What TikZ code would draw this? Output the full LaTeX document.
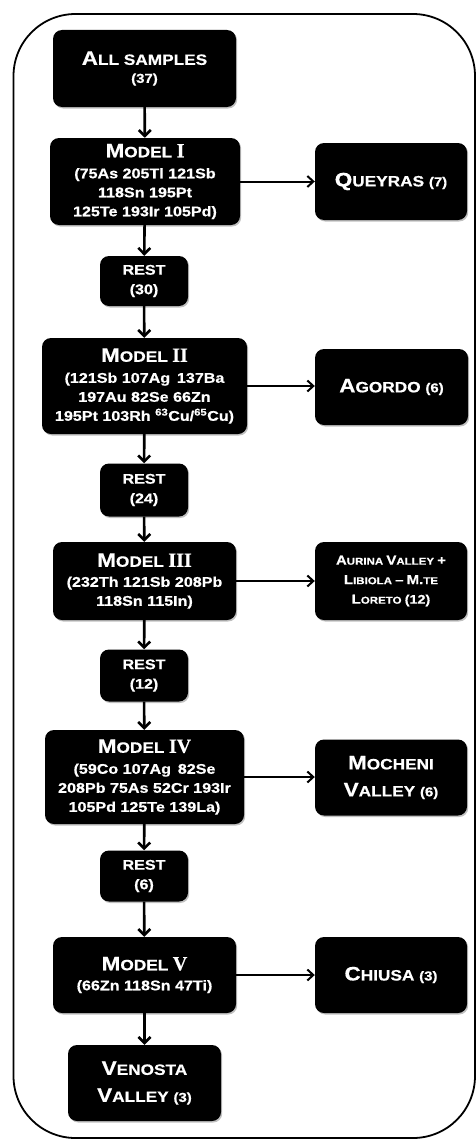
\documentclass[tikz,border=0pt]{standalone}
\usepackage{fontspec}
\usetikzlibrary{arrows.meta,shadows}
\newfontfamily\labfont{Liberation Sans}[FakeStretch=1.15,FakeBold=0.6]
\newfontfamily\numfont{Liberation Serif}[FakeBold=0.4]
% big initials, small-cap tails, counts, roman numerals
\newcommand\HB[1]{{\fontsize{19.5pt}{19.5pt}\selectfont#1}}
\newcommand\HS[1]{{\fontsize{15pt}{15pt}\selectfont#1}}
\newcommand\CNT[1]{{\fontsize{13pt}{13pt}\selectfont#1}}
\newcommand\RN[1]{{\numfont\fontsize{20pt}{20pt}\selectfont#1}}
\newcommand\AB[1]{{\fontsize{13pt}{13pt}\selectfont#1}}
\newcommand\AS[1]{{\fontsize{10pt}{10pt}\selectfont#1}}
\tikzset{
  box/.style={fill=black, text=white, rounded corners=9pt, inner sep=0pt,
    align=center,
    drop shadow={shadow xshift=1.2pt, shadow yshift=-1.5pt, opacity=0.35, fill=black!70}},
  modelbox/.style={box, font=\labfont\bfseries\fontsize{14pt}{19pt}\selectfont},
  sidebox/.style={box, minimum width=152pt, font=\labfont\bfseries\fontsize{15pt}{27pt}\selectfont},
  restbox/.style={box, minimum width=88pt, font=\labfont\bfseries\fontsize{14pt}{19.5pt}\selectfont},
  vconn/.style={line width=2.6pt, -{Straight Barb[length=6pt,width=12pt]}},
  hconn/.style={line width=2pt, -{Straight Barb[length=6pt,width=11pt]}},
}
\begin{document}
\begin{tikzpicture}[x=1pt,y=-1pt]
\useasboundingbox (0,0) rectangle (476,1140);
\fill[white] (0,0) rectangle (476,1140);
% outer frame
\draw[line width=1.8pt, rounded corners=62pt] (13.5,14) rectangle (475,1138);

% main column
\node[modelbox, minimum width=183pt, minimum height=77pt, font=\labfont\bfseries\fontsize{14pt}{18pt}\selectfont]
  (all) at (144.5,68.5) {\HB{A}\HS{LL SAMPLES}\\\CNT{(37)}};
\node[modelbox, minimum width=190pt, minimum height=87pt] (m1) at (145,181.5)
  {\HB{M}\HS{ODEL} \RN{I}\\[2pt](75As 205Tl 121Sb\\118Sn 195Pt\\125Te 193Ir 105Pd)};
\node[restbox, minimum height=50pt] (r1) at (144,281) {REST\\(30)};
\node[modelbox, minimum width=205pt, minimum height=96pt] (m2) at (144.5,386)
  {\HB{M}\HS{ODEL} \RN{II}\\[2pt](121Sb 107Ag \,137Ba\\197Au 82Se 66Zn\\195Pt 103Rh \textsuperscript{63}Cu/\textsuperscript{65}Cu)};
\node[restbox, minimum height=53pt] (r2) at (144,490) {REST\\(24)};
\node[modelbox, minimum width=183pt, minimum height=78pt] (m3) at (144.5,581)
  {\HB{M}\HS{ODEL} \RN{III}\\[1pt](232Th 121Sb 208Pb\\118Sn 115In)};
\node[restbox, minimum height=52pt] (r3) at (144,675.5) {REST\\(12)};
\node[modelbox, minimum width=199pt, minimum height=94pt] (m4) at (144.5,777)
  {\HB{M}\HS{ODEL} \RN{IV}\\[2pt](59Co 107Ag \,82Se\\208Pb 75As 52Cr 193Ir\\105Pd 125Te 139La)};
\node[restbox, minimum height=51pt] (r4) at (144,876) {REST\\(6)};
\node[modelbox, minimum width=183pt, minimum height=76pt] (m5) at (144.5,975)
  {\HB{M}\HS{ODEL} \RN{V}\\[1pt](66Zn 118Sn 47Ti)};
\node[sidebox, minimum width=153pt, minimum height=76pt] (ven) at (144.5,1083)
  {\HB{V}\HS{ENOSTA}\\\HB{V}\HS{ALLEY} \CNT{(3)}};

% side column
\node[sidebox, minimum height=77pt] (que) at (391,181.5) {\HB{Q}\HS{UEYRAS} \CNT{(7)}};
\node[sidebox, minimum width=153pt, minimum height=76pt] (ago) at (391.5,387) {\HB{A}\HS{GORDO} \CNT{(6)}};
\node[sidebox, minimum height=78pt, font=\labfont\bfseries\fontsize{10pt}{19.5pt}\selectfont] (aur) at (391,581)
  {\AB{A}\AS{URINA} \AB{V}\AS{ALLEY} \AB{+}\\\AB{L}\AS{IBIOLA} \AB{\textendash} \AB{M.}\AS{TE}\\\AB{L}\AS{ORETO} {\fontsize{12.5pt}{12.5pt}\selectfont(12)}};
\node[sidebox, minimum height=76pt] (moc) at (391,777.5) {\HB{M}\HS{OCHENI}\\\HB{V}\HS{ALLEY} \CNT{(6)}};
\node[sidebox, minimum height=76pt] (chi) at (391,975) {\HB{C}\HS{HIUSA} \CNT{(3)}};

% vertical flow
\draw[vconn] (all) -- (m1);
\draw[vconn] (m1) -- (r1);
\draw[vconn] (r1) -- (m2);
\draw[vconn] (m2) -- (r2);
\draw[vconn] (r2) -- (m3);
\draw[vconn] (m3) -- (r3);
\draw[vconn] (r3) -- (m4);
\draw[vconn] (m4) -- (r4);
\draw[vconn] (r4) -- (m5);
\draw[vconn] (m5) -- (ven);

% branches to the sites
\draw[hconn] (m1.east) -- (que.west);
\draw[hconn] (m2.east) -- (m2.east -| ago.west);
\draw[hconn] (m3.east) -- (aur.west);
\draw[hconn] (m4.east) -- (m4.east -| moc.west);
\draw[hconn] (m5.east) -- (chi.west);
\end{tikzpicture}
\end{document}
